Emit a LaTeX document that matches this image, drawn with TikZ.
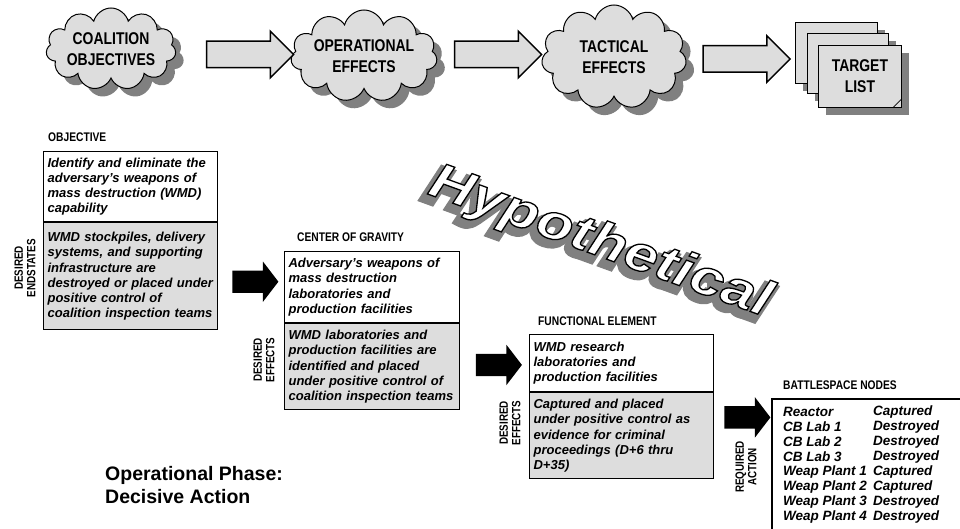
\documentclass[tikz,border=0pt]{standalone}
\usepackage{fontspec}
\setmainfont{Liberation Sans}
\newfontfamily\narrowfont[FakeStretch=0.82]{Liberation Sans}
\newfontfamily\wordartfont[FakeStretch=1.2]{Liberation Sans}
\usetikzlibrary{shapes.symbols,shapes.arrows,shadows,calc,positioning}
\definecolor{boxgray}{RGB}{221,221,221}
\definecolor{shadowgray}{RGB}{128,128,128}

\begin{document}
\begin{tikzpicture}[x=1pt,y=-1pt,
    darkshadow/.style={drop shadow={shadow xshift=8pt, shadow yshift=-8pt, fill=shadowgray, opacity=1}},
    bubble/.style={cloud, cloud puffs=11, cloud ignores aspect, draw, line width=1pt, fill=boxgray, darkshadow, align=center, inner sep=0pt, font=\narrowfont\bfseries\fontsize{17}{21}\selectfont},
    flow/.style={single arrow, draw, line width=1.5pt, fill=boxgray, inner xsep=0pt, inner ysep=12.5pt, minimum height=87pt, minimum width=45pt, single arrow head extend=10pt},
    push/.style={single arrow, fill=black, inner xsep=0pt, inner ysep=11pt, minimum height=46pt, minimum width=40pt, single arrow head extend=9pt, single arrow tip angle=105},
    page/.style={draw, line width=0.8pt, fill=boxgray, anchor=north west, darkshadow, align=center, font=\narrowfont\bfseries\fontsize{17}{21}\selectfont},
    head/.style={anchor=west, inner sep=0pt, font=\narrowfont\bfseries\fontsize{12.5}{14}\selectfont},
    side/.style={rotate=90, align=center, inner sep=0pt, font=\narrowfont\bfseries\fontsize{12}{12.5}\selectfont},
    topbox/.style={draw, line width=1.2pt, fill=white, anchor=north west, inner xsep=4pt, inner ysep=0pt, align=left, font=\bfseries\itshape\fontsize{13}{15.3}\selectfont},
    lowbox/.style={topbox, fill=boxgray},
    item/.style={anchor=west, inner sep=0pt, font=\bfseries\itshape\fontsize{13.5}{15}\selectfont},
    hypo/.style={rotate=-20, inner sep=0pt, font=\wordartfont\bfseries\itshape\fontsize{50}{50}\selectfont}]
    \useasboundingbox (0,0) rectangle (960,529);

    % top row
    \node[bubble, minimum width=122pt, minimum height=82pt] (coal) at (111,49) {COALITION\\OBJECTIVES};
    \node[bubble, minimum width=138pt, minimum height=92pt] (oper) at (364,56) {OPERATIONAL\\EFFECTS};
    \node[bubble, minimum width=145pt, minimum height=104pt] (tact) at (614,57) {TACTICAL\\EFFECTS};
    \node[page, minimum width=82pt, minimum height=61pt] (p1) at (795,22) {};
    \node[page, minimum width=81pt, minimum height=60pt] (p2) at (807,33) {};
    \node[page, minimum width=83pt, minimum height=62pt] (p3) at (818,45) {TARGET\\LIST};
    \draw[line width=0.8pt] ($(p3.south east)+(-9,0)$) -- ($(p3.south east)+(0,-9)$);
    \node[flow] (f1) at (243.5,54.5) {};
    \node[flow] (f2) at (491.5,54.5) {};
    \node[flow] (f3) at (740,59) {};

    % watermark
    \coordinate (hyp) at (600,243);
    \node[hypo, text=shadowgray] (hypshade) at ($(hyp)+(-4,5)$) {\special{pdf:literal direct 0.502 G 2 Tr 8 w}Hypothetical\special{pdf:literal direct 0 Tr}};
    \node[hypo, text=white] (hypword) at (hyp) {\special{pdf:literal direct 0 G 2 Tr 1.3 w}Hypothetical\special{pdf:literal direct 0 Tr}};

    % objective
    \node[head] (objhead) at (48,137) {OBJECTIVE};
    \node[topbox, text width=166pt, minimum height=70pt] (objtop) at (43,151) {Identify and eliminate the\\adversary's weapons of\\mass destruction (WMD)\\capability};
    \node[lowbox, text width=166pt, minimum height=107pt] (objlow) at (objtop.south west) {WMD stockpiles, delivery\\systems, and supporting\\infrastructure are\\destroyed or placed under\\positive control of\\coalition inspection teams};
    \node[side] (objside) at (25,268) {DESIRED\\ENDSTATES};

    % center of gravity
    \node[head] (coghead) at (297,237) {CENTER OF GRAVITY};
    \node[topbox, text width=167pt, minimum height=71pt] (cogtop) at (284,251) {Adversary's weapons of\\mass destruction\\laboratories and\\production facilities};
    \node[lowbox, text width=167pt, minimum height=86pt] (coglow) at (cogtop.south west) {WMD laboratories and\\production facilities are\\identified and placed\\under positive control of\\coalition inspection teams};
    \node[side] (cogside) at (264,360) {DESIRED\\EFFECTS};

    % functional element
    \node[head] (fehead) at (538,321) {FUNCTIONAL ELEMENT};
    \node[topbox, text width=176pt, minimum height=57pt] (fetop) at (529,334) {WMD research\\laboratories and\\production facilities};
    \node[lowbox, text width=176pt, minimum height=86pt] (felow) at (fetop.south west) {Captured and placed\\under positive control as\\evidence for criminal\\proceedings (D+6 thru\\D+35)};
    \node[side] (feside) at (510,423) {DESIRED\\EFFECTS};

    % battlespace nodes
    \node[head] (bshead) at (783,385) {BATTLESPACE NODES};
    \coordinate (bs) at (772,399);
    \draw[line width=1.2pt] (960,399) -- (bs) -- (772,529);
    \foreach \nm/\st [count=\i from 0] in {Reactor/Captured, CB Lab 1/Destroyed, CB Lab 2/Destroyed, CB Lab 3/Destroyed, Weap Plant 1/Captured, Weap Plant 2/Captured, Weap Plant 3/Destroyed, Weap Plant 4/Destroyed} {
        \node[item] (bn\i) at (783,412+15*\i) {\nm};
        \node[item] (bs\i) at (873,412+15*\i) {\st};
    }
    \node[side] (bsside) at (746,467) {REQUIRED\\ACTION};

    % black arrows
    \node[push] (a1) at ($(objlow.east)!0.5!(cogtop.west)$ |- 0,278) {};
    \node[push] (a2) at ($(coglow.east)!0.5!(fetop.west)$ |- 0,357) {};
    \node[push] (a3) at ($(felow.east)!0.5!(bs)$ |- 0,425) {};

    \node[anchor=west, align=left, inner sep=0pt, font=\bfseries\fontsize{19.5}{23}\selectfont] (phase) at (105,485) {Operational Phase:\\Decisive Action};
\end{tikzpicture}
\end{document}
